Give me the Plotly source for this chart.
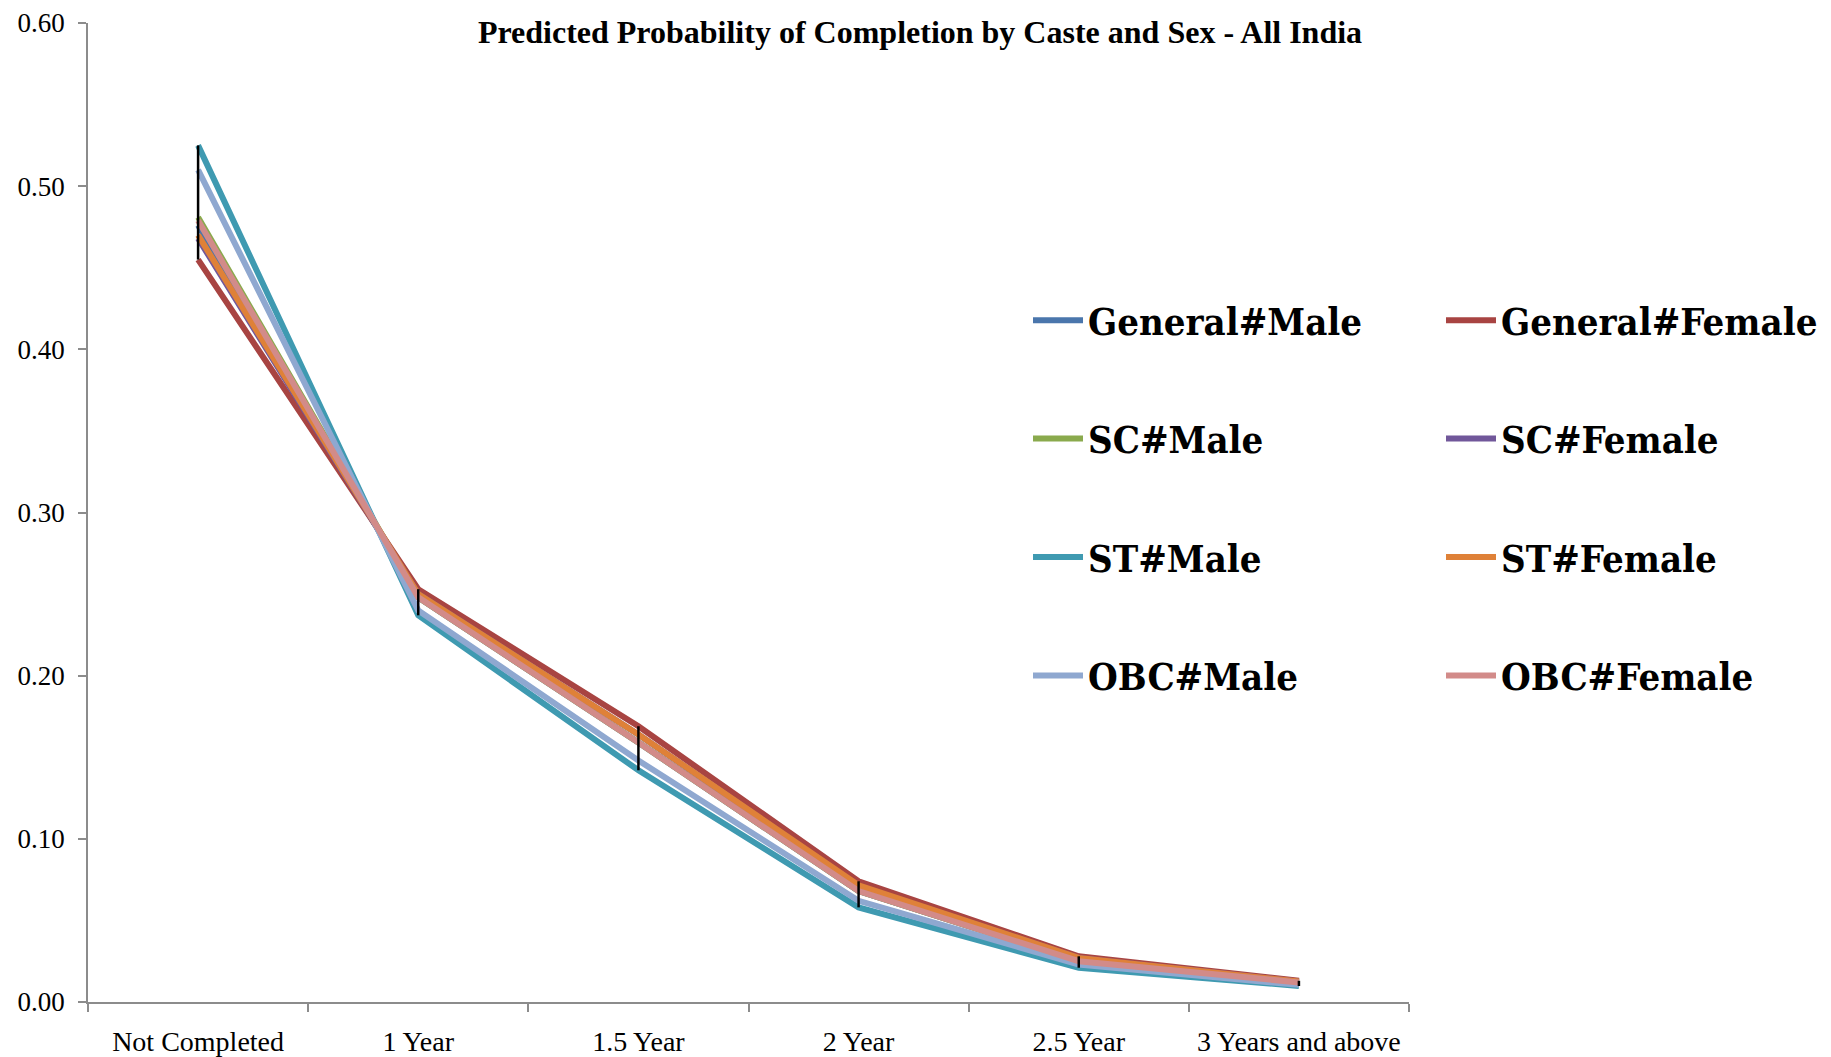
import numpy as np
import plotly.graph_objects as go

categories = ["Not Completed", "1 Year", "1.5 Year", "2 Year", "2.5 Year", "3 Years and above"]

y_ticks = [0.0, 0.1, 0.2, 0.3, 0.4, 0.5, 0.6]
y_tick_labels = ["0.00", "0.10", "0.20", "0.30", "0.40", "0.50", "0.60"]

series_names = ["General#Male", "General#Female", "SC#Male", "SC#Female",
                "ST#Male", "ST#Female", "OBC#Male", "OBC#Female"]

general_male   = [0.476, 0.248, 0.159, 0.068, 0.025, 0.0120]
general_female = [0.455, 0.253, 0.169, 0.074, 0.028, 0.0130]
sc_male        = [0.481, 0.248, 0.159, 0.068, 0.025, 0.0120]
sc_female      = [0.468, 0.250, 0.164, 0.071, 0.027, 0.0125]
st_male        = [0.525, 0.237, 0.142, 0.058, 0.021, 0.0098]
st_female      = [0.470, 0.250, 0.164, 0.0715, 0.027, 0.0125]
obc_male       = [0.510, 0.240, 0.148, 0.062, 0.023, 0.0105]
obc_female     = [0.479, 0.248, 0.159, 0.068, 0.025, 0.0120]

series_values = [general_male, general_female, sc_male, sc_female,
                 st_male, st_female, obc_male, obc_female]

colors = ["#4A76AC", "#A84442", "#8AAA4D", "#71579A",
          "#3F9AB1", "#DF8138", "#8FA8D0", "#D28B89"]

fig = go.Figure()

for i, (name, vals, col) in enumerate(zip(series_names, series_values, colors)):
    fig.add_trace(go.Scatter(
        x=categories, y=vals, mode="lines", name=name,
        line=dict(color=col, width=6),
        legend="legend" if i % 2 == 0 else "legend2",
        legendgroup=name,
    ))

# high-low lines
arr = np.array(series_values)
lo = arr.min(axis=0)
hi = arr.max(axis=0)
hx, hy = [], []
for c, a, b in zip(categories, lo, hi):
    hx += [c, c, None]
    hy += [a, b, None]
fig.add_trace(go.Scatter(x=hx, y=hy, mode="lines", line=dict(color="black", width=2.5),
                         showlegend=False, hoverinfo="skip"))

legend_font = dict(family="DejaVu Serif Condensed", size=38, color="black", weight="bold")
common_legend = dict(
    xref="container", yref="container", yanchor="top", xanchor="left",
    font=legend_font, tracegroupgap=66, bgcolor="rgba(0,0,0,0)",
    itemwidth=50,
)

fig.update_layout(
    width=1831, height=1057,
    paper_bgcolor="white", plot_bgcolor="white",
    margin=dict(l=80, r=430, t=15, b=63, autoexpand=False),
    title=dict(
        text="<b>Predicted Probability of Completion by Caste and Sex - All India</b>",
        x=912 / 1831, xanchor="center", xref="container",
        y=1 - 24 / 1057, yanchor="middle", yref="container",
        font=dict(family="Liberation Serif", size=32, color="black"),
    ),
    legend=dict(x=1020 / 1831, y=1 - 281 / 1057, **common_legend),
    legend2=dict(x=1433 / 1831, y=1 - 281 / 1057, **common_legend),
    xaxis=dict(
        type="category", categoryorder="array", categoryarray=categories,
        range=[-0.5, 5.5],
        showline=True, linecolor="#8c8c8c", linewidth=1.5,
        ticks="outside", tickson="boundaries", ticklen=8, tickcolor="#8c8c8c", tickwidth=1.5,
        showgrid=False, zeroline=False, tickangle=0,
        tickfont=dict(family="Liberation Serif", size=28, color="black"),
        ticklabelstandoff=14,
    ),
    yaxis=dict(
        range=[0, 0.6], tickmode="array", tickvals=y_ticks, ticktext=y_tick_labels,
        showline=True, linecolor="#8c8c8c", linewidth=1.5,
        ticks="outside", ticklen=8, tickcolor="#8c8c8c", tickwidth=1.5,
        showgrid=False, zeroline=False, ticklabeloverflow="allow",
        tickfont=dict(family="Liberation Serif", size=27, color="black"),
        ticklabelstandoff=8,
    ),
)

fig.write_html("out.html")
